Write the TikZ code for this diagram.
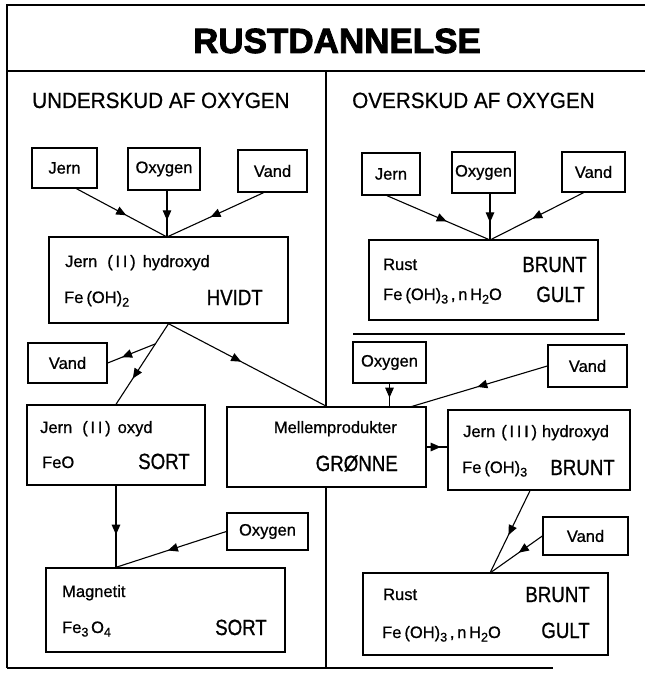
\documentclass[tikz,border=0pt]{standalone}
\usepackage{fontspec}
\setmainfont{Liberation Sans}[FakeBold=0.8]
\newfontfamily\capfont{Liberation Sans}[FakeStretch=0.85,FakeBold=0.8]
\newfontfamily\hdrfont{Liberation Sans}[FakeStretch=0.94,FakeBold=0.6]
\newfontfamily\titlefont{Liberation Sans Bold}[FakeBold=2.5]
\newcommand\lowidx[1]{\raisebox{-3.5pt}{\fontsize{12.5}{13}\selectfont #1}}
\usetikzlibrary{arrows.meta,decorations.markings,calc}
\begin{document}
\begin{tikzpicture}[x=1pt,y=-1pt,
  box/.style={draw, line width=1.4pt, inner sep=0pt, font=\fontsize{16.5}{18}\selectfont},
  txt/.style={inner sep=0pt, font=\fontsize{16.5}{18}\selectfont},
  big/.style={inner sep=0pt, font=\capfont\fontsize{22}{24}\selectfont},
  hdr/.style={inner sep=0pt, font=\hdrfont\fontsize{22}{24}\selectfont},
  conn/.style={line width=1.1pt},
  midarr/.style={postaction={decorate}, decoration={markings, mark=at position #1 with {\arrow{Triangle[length=10pt,width=8.5pt]}}}},
  frame/.style={line width=1.5pt}]
\fill[white] (0,0) rectangle (645,679);
\useasboundingbox (0,0) rectangle (645,679);

% title and headers
\node[inner sep=0pt, anchor=base, font=\titlefont\fontsize{35}{38}\selectfont] (title) at (337,53) {RUSTDANNELSE};
\node[hdr, anchor=base west] (hdrL) at (32,108) {UNDERSKUD AF OXYGEN};
\node[hdr, anchor=base west] (hdrR) at (352,108) {OVERSKUD AF OXYGEN};

% left column boxes
\node[box, minimum width=65pt, minimum height=40pt] (jernL) at (64.5,168) {Jern};
\node[box, minimum width=72pt, minimum height=42pt] (oxyL) at (164,169) {Oxygen};
\node[box, minimum width=69pt, minimum height=42pt] (vandL) at (272.5,171) {Vand};
\node[box, minimum width=239pt, minimum height=86pt] (hyd) at (168.5,280) {};
\node[box, minimum width=79pt, minimum height=40pt] (vandL2) at (67.5,363) {Vand};
\node[box, minimum width=178pt, minimum height=80pt] (oxyd) at (116,445) {};
\node[box, minimum width=199pt, minimum height=80pt] (mel) at (326.5,447) {};
\node[box, minimum width=81pt, minimum height=37pt] (oxyL2) at (267.5,531.5) {Oxygen};
\node[box, minimum width=239pt, minimum height=84pt] (mag) at (165.5,610) {};

% right column boxes
\node[box, minimum width=58pt, minimum height=42pt] (jernR) at (391,174) {Jern};
\node[box, minimum width=63pt, minimum height=41pt] (oxyR) at (483.5,172.5) {Oxygen};
\node[box, minimum width=63pt, minimum height=40pt] (vandR) at (593.5,172) {Vand};
\node[box, minimum width=229pt, minimum height=80pt] (rust1) at (483.5,280) {};
\node[box, minimum width=73pt, minimum height=41pt] (oxyR2) at (389.5,362.5) {Oxygen};
\node[box, minimum width=79pt, minimum height=42pt] (vandR2) at (587.5,366) {Vand};
\node[box, minimum width=182pt, minimum height=80pt] (j3) at (539,450) {};
\node[box, minimum width=85pt, minimum height=38pt] (vandR3) at (585.5,536) {Vand};
\node[box, minimum width=245pt, minimum height=82pt] (rust2) at (485.5,614) {};

% texts in boxes
\node[txt, anchor=base west] (hydA) at (65,267) {Jern\hspace{10pt}(\,I\,I\,)\hspace{7pt}hydroxyd};
\node[txt, anchor=base west] (hydB) at (64,303) {Fe\hspace{3pt}(OH)\lowidx{2}};
\node[big, anchor=base east] (hydC) at (263,305) {HVIDT};

\node[txt, anchor=base west] (r1A) at (383,270) {Rust};
\node[big, anchor=base east] (r1B) at (587,272) {BRUNT};
\node[txt, anchor=base west] (r1C) at (383,300) {Fe\hspace{3pt}(OH)\lowidx{3}\,,\,n\,H\lowidx{2}O};
\node[big, anchor=base east] (r1D) at (585,302) {GULT};

\node[txt, anchor=base west] (oxA) at (40,433) {Jern\hspace{10pt}(\,I\,I\,)\hspace{7pt}oxyd};
\node[txt, anchor=base west] (oxB) at (42,468) {FeO};
\node[big, anchor=base east] (oxC) at (190,469) {SORT};

\node[txt, anchor=base west] (mgA) at (62,597) {Magnetit};
\node[txt, anchor=base west] (mgB) at (62,633) {Fe\lowidx{3}\,O\lowidx{4}};
\node[big, anchor=base east] (mgC) at (267,635) {SORT};

\node[txt, anchor=base east] (meA) at (397,433) {Mellemprodukter};
\node[big, anchor=base east] (meB) at (398,471) {GRØNNE};

\node[txt, anchor=base west] (j3A) at (463,437) {Jern\hspace{6pt}(\,I\,I\,I\,)\hspace{5pt}hydroxyd};
\node[txt, anchor=base west] (j3B) at (462,473) {Fe\hspace{3pt}(OH)\lowidx{3}};
\node[big, anchor=base east] (j3C) at (615,475) {BRUNT};

\node[txt, anchor=base west] (r2A) at (383,600) {Rust};
\node[big, anchor=base east] (r2B) at (590,602) {BRUNT};
\node[txt, anchor=base west] (r2C) at (382,638) {Fe\hspace{3pt}(OH)\lowidx{3}\,,\,n\,H\lowidx{2}O};
\node[big, anchor=base east] (r2D) at (590,638) {GULT};

% frame and dividers
\draw[frame] (7,668) -- (7,5) -- (645,5);
\draw[frame] (7,668) -- (553,668);
\draw[frame] (7,71) -- (645,71);
\draw[frame] (326,71) -- (mel.north -| 326,0);
\draw[frame] (mel.south -| 326,0) -- (326,668);
\draw[frame] (353,334) -- (625,334);

% junction coordinates
\coordinate (jA) at (167,237);
\coordinate (jV) at ($(hyd.south)!0.25!(oxyd.north)$);
\coordinate (mT) at (oxyd.south |- mag.north);
\coordinate (mV) at (410,407);
\coordinate (rT) at (490,573);
\coordinate (rJ) at (490,240);

% connectors left
\draw[conn, midarr=0.55] ([xshift=12pt]jernL.south) -- (jA);
\draw[conn, midarr=0.64] (oxyL.south -| jA) -- (jA);
\draw[conn, midarr=0.55] ([xshift=-9pt]vandL.south) -- (jA);
\draw[conn, midarr=0.68] (hyd.south) -- (oxyd.north);
\draw[conn, midarr=0.7] (jV) -- (vandL2.east);
\draw[conn, midarr=0.46] (hyd.south) -- (mel.north);
\draw[conn, midarr=0.6] (oxyd.south) -- (mT);
\draw[conn, midarr=0.53] (oxyL2.west) -- (mT);

% connectors right
\draw[conn, midarr=0.58] ([xshift=-4pt]jernR.south) -- (rJ);
\draw[conn, midarr=0.62] (oxyR.south -| rJ) -- (rJ);
\draw[conn, midarr=0.55] ([xshift=-10pt]vandR.south) -- (rJ);
\draw[conn, midarr=0.62] (oxyR2.south) -- (oxyR2.south |- mel.north);
\draw[conn, midarr=0.51] (vandR2.west) -- (mV);
\draw[conn, midarr=0.68] (mel.east) -- (mel.east -| j3.west);
\draw[conn, midarr=0.54] ([xshift=-9pt]j3.south) -- (rT);
\draw[conn, midarr=0.45] (vandR3.west) -- (rT);
\end{tikzpicture}
\end{document}
